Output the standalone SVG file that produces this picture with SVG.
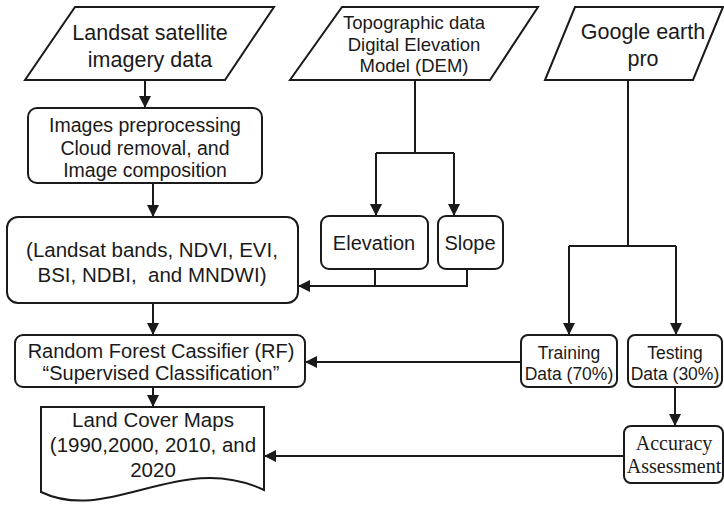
<svg xmlns="http://www.w3.org/2000/svg" width="724" height="507" viewBox="0 0 724 507">
<defs>
<style>
.shape{fill:#fff;stroke:#1a1a1a;stroke-width:2}
.t{font-family:"Liberation Sans",Arial,sans-serif;fill:#1a1a1a;text-anchor:middle}
.s{font-family:"Liberation Serif","Times New Roman",serif;fill:#1a1a1a;text-anchor:middle}
.c{fill:none;stroke:#1a1a1a;stroke-width:2}
</style>
<marker id="ah" markerUnits="userSpaceOnUse" markerWidth="12" markerHeight="12" viewBox="0 0 12 12" refX="12" refY="6" orient="auto">
<path d="M0,0 L12,6 L0,12 z" fill="#1a1a1a"/>
</marker>
</defs>
<rect width="724" height="507" fill="#fff"/>
<g id="connectors">
<path class="c" d="M145,80 V108" marker-end="url(#ah)"/>
<path class="c" d="M153,183 V217" marker-end="url(#ah)"/>
<path class="c" d="M153,303 V335" marker-end="url(#ah)"/>
<path class="c" d="M153,387 V407" marker-end="url(#ah)"/>
<path class="c" d="M415,80 V153 M376,153 H454"/>
<path class="c" d="M376,153 V216" marker-end="url(#ah)"/>
<path class="c" d="M454,153 V216" marker-end="url(#ah)"/>
<path class="c" d="M375,269 V286"/>
<path class="c" d="M467,269 V286 H298" marker-end="url(#ah)"/>
<path class="c" d="M628,80 V246 M569,246 H676"/>
<path class="c" d="M569,246 V335" marker-end="url(#ah)"/>
<path class="c" d="M676,246 V335" marker-end="url(#ah)"/>
<path class="c" d="M521,362 H305" marker-end="url(#ah)"/>
<path class="c" d="M675,387 V426" marker-end="url(#ah)"/>
<path class="c" d="M624,456 H264" marker-end="url(#ah)"/>
</g>
<g id="landsat">
<polygon class="shape" points="75,7 274,7 225,80 25,80"/>
<text class="t" font-size="21.5" x="150" y="40">Landsat satellite</text>
<text class="t" font-size="21.5" x="150" y="67">imagery data</text>
</g>
<g id="preprocessing">
<rect class="shape" x="28" y="108" width="234" height="75" rx="9"/>
<text class="t" font-size="19.5" x="145" y="132">Images preprocessing</text>
<text class="t" font-size="19.5" x="145" y="155">Cloud removal, and</text>
<text class="t" font-size="19.5" x="145" y="177">Image composition</text>
</g>
<g id="bands">
<rect class="shape" x="7" y="217" width="291" height="86" rx="11"/>
<text class="t" font-size="20.5" x="152" y="257">(Landsat bands, NDVI, EVI,</text>
<text class="t" font-size="20.5" x="152" y="282" xml:space="preserve">BSI, NDBI,  and MNDWI)</text>
</g>
<g id="rf">
<rect class="shape" x="15" y="335" width="290" height="52" rx="8"/>
<text class="t" font-size="20" x="161" y="358">Random Forest Cassifier (RF)</text>
<text class="t" font-size="20" x="161" y="380">“Supervised Classification”</text>
</g>
<g id="landcover">
<path class="shape" d="M41,407 H264 V490 C180,450 110,525 41,492 Z"/>
<text class="t" font-size="20.5" x="153" y="427">Land Cover Maps</text>
<text class="t" font-size="20.5" x="153" y="452">(1990,2000, 2010, and</text>
<text class="t" font-size="20.5" x="153" y="477">2020</text>
</g>
<g id="topographic">
<polygon class="shape" points="342,7 538,7 490,80 290,80"/>
<text class="t" font-size="18.5" x="414" y="29">Topographic data</text>
<text class="t" font-size="18.5" x="414" y="51">Digital Elevation</text>
<text class="t" font-size="18.5" x="414" y="72">Model (DEM)</text>
</g>
<g id="elevation">
<rect class="shape" x="321" y="216" width="107" height="53" rx="8"/>
<text class="t" font-size="20" x="374" y="250">Elevation</text>
</g>
<g id="slope">
<rect class="shape" x="438" y="216" width="65" height="53" rx="8"/>
<text class="t" font-size="20" x="470" y="250">Slope</text>
</g>
<g id="google">
<polygon class="shape" points="575,7 723,7 693,80 545,80"/>
<text class="t" font-size="21.5" x="643" y="39">Google earth</text>
<text class="t" font-size="21.5" x="643" y="66">pro</text>
</g>
<g id="training">
<rect class="shape" x="521" y="335" width="96" height="52" rx="7"/>
<text class="t" font-size="17.5" x="569" y="359">Training</text>
<text class="t" font-size="17.5" x="569" y="380">Data (70%)</text>
</g>
<g id="testing">
<rect class="shape" x="628" y="335" width="94" height="52" rx="7"/>
<text class="t" font-size="17.5" x="675" y="359">Testing</text>
<text class="t" font-size="17.5" x="675" y="380">Data (30%)</text>
</g>
<g id="accuracy">
<rect class="shape" x="624" y="426" width="99" height="57" rx="7"/>
<text class="s" font-size="20" x="674" y="450">Accuracy</text>
<text class="s" font-size="20" x="674" y="473">Assessment</text>
</g>
</svg>
